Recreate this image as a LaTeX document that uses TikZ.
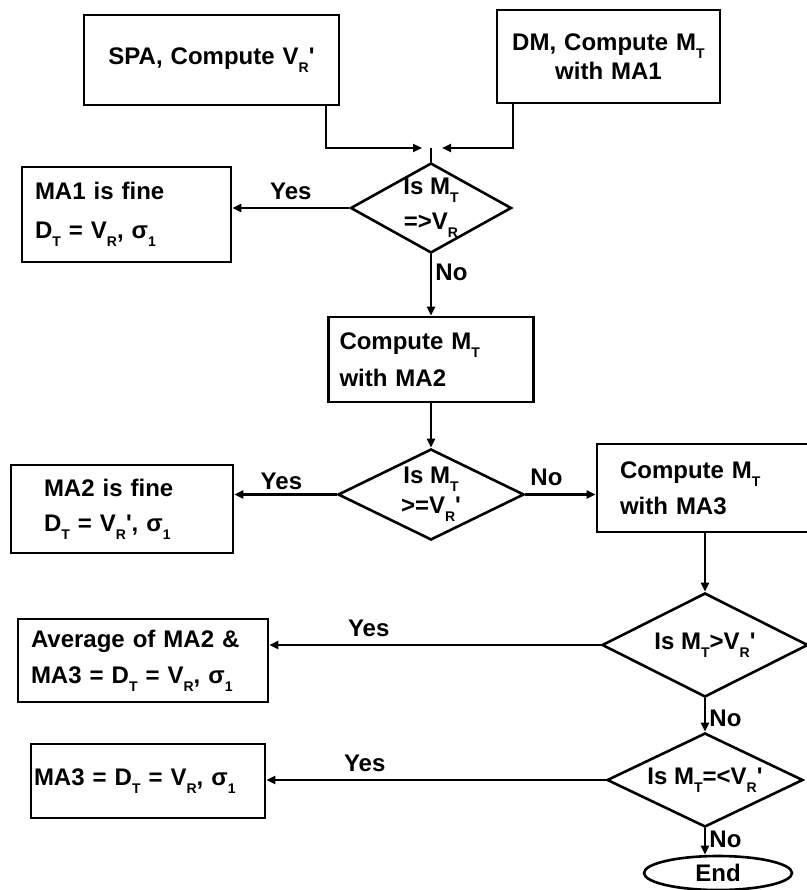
\documentclass[tikz,border=0pt]{standalone}
\usepackage{fontspec}
\setmainfont{Liberation Sans}[Ligatures=TeXOff]
\usetikzlibrary{positioning,shapes.geometric,arrows.meta}
\newcommand{\lo}[1]{\raisebox{-0.34em}{\fontsize{14}{14}\selectfont #1}}

\begin{document}
\begin{tikzpicture}[x=1pt,y=-1pt,font=\fontsize{24}{29}\selectfont\bfseries,
	box/.style={draw,line width=2.6pt,inner ysep=0pt,align=left},
	decision/.style={diamond,draw,line width=2.6pt,inner sep=-2pt,aspect=1.8,align=center},
	term/.style={ellipse,draw,line width=2.6pt,inner sep=0pt},
	line/.style={line width=2.2pt},
	arrow/.style={line width=2.2pt,-{Triangle[length=9pt,width=8pt]}}]
	\useasboundingbox (0,0) rectangle (806,890);

	\node[box,align=center,minimum height=90pt,text width=229pt,inner xsep=13pt]	(spa)	at (211.5,60)	{\raisebox{-5pt}{SPA, Compute V\lo{R}'}};
	\node[box,align=center,minimum height=93pt,text width=211pt,inner xsep=6pt]	(dm)	at (608.5,56.5)	{DM, Compute M\lo{T}\\[0pt]with MA1};
	\coordinate																	(j)		at (431,148);

	\node[decision,minimum width=161pt,minimum height=90pt,inner sep=-6pt]		(d1)	at (431,208)	{Is M\lo{T}\\[6pt]=>V\lo{R}};
	\node[box,minimum height=95pt,text width=183pt,inner xsep=13pt]				(ma1)	at (126.5,214.5){MA1 is fine\\[10pt]D\lo{T} = V\lo{R}, σ\lo{1}};

	\node[box,minimum height=85pt,text width=183pt,inner xsep=11pt]				(mt2)	at (431,359.5)	{Compute M\lo{T}\\[8pt]with MA2};
	\node[decision,minimum width=186pt,minimum height=91pt]						(d2)	at (431,494.5)	{Is M\lo{T}\\[1pt]>=V\lo{R}'};
	\node[box,minimum height=88pt,text width=156pt,inner xsep=33pt]				(ma2)	at (122,509)	{MA2 is fine\\[6pt]D\lo{T} = V\lo{R}', σ\lo{1}};
	\node[box,minimum height=88pt,text width=172pt,inner xsep=23pt]				(mt3)	at (706,488)	{Compute M\lo{T}\\[7pt]with MA3};

	\node[decision,minimum width=206pt,minimum height=104pt]					(d3)	at (705,645)	{Is M\lo{T}>V\lo{R}'};
	\node[box,minimum height=83pt,text width=224pt,inner xsep=13pt]				(avg)	at (143,660.5)	{Average of MA2 \&\\[7pt]MA3 = D\lo{T} = V\lo{R}, σ\lo{1}};

	\node[decision,minimum width=196pt,minimum height=94pt]						(d4)	at (705,780)	{Is M\lo{T}=<V\lo{R}'};
	\node[box,minimum height=74pt,text width=228pt,inner xsep=3pt]				(ma3)	at (148,781)	{MA3 = D\lo{T} = V\lo{R}, σ\lo{1}};
	\node[term,minimum width=148pt,minimum height=34pt]							(end)	at (718,873)	{End};

	\draw[arrow,shorten >=9pt] ([xshift=114.5pt]spa.south) |- (j);
	\draw[arrow,shorten >=11pt] ([xshift=-95.5pt]dm.south) |- (j);
	\draw[line] (j) -- (d1.north);

	\draw[arrow] (d1.west) -- node[above,pos=0.5,yshift=4pt] {Yes} (d1.west -| ma1.east);
	\draw[arrow] (d1.south) -- node[right,pos=0.3] {No} (mt2.north);
	\draw[arrow] (mt2.south) -- (d2.north);
	\draw[arrow] (d2.west) -- node[above,pos=0.54] {Yes} (d2.west -| ma2.east);
	\draw[arrow] (d2.east) -- node[above,pos=0.3,yshift=4pt] {No} (d2.east -| mt3.west);
	\draw[arrow] (mt3.south -| d3.north) -- (d3.north);
	\draw[arrow] (d3.west) -- node[above,pos=0.7,yshift=4pt] {Yes} (d3.west -| avg.east);
	\draw[arrow] (d3.south) -- node[right,pos=0.6] {No} (d4.north);
	\draw[arrow] (d4.west) -- node[above,pos=0.71,yshift=4pt] {Yes} (d4.west -| ma3.east);
	\draw[arrow] (d4.south) -- node[right,pos=0.4] {No} (d4.south |- end.north);
\end{tikzpicture}
\end{document}
